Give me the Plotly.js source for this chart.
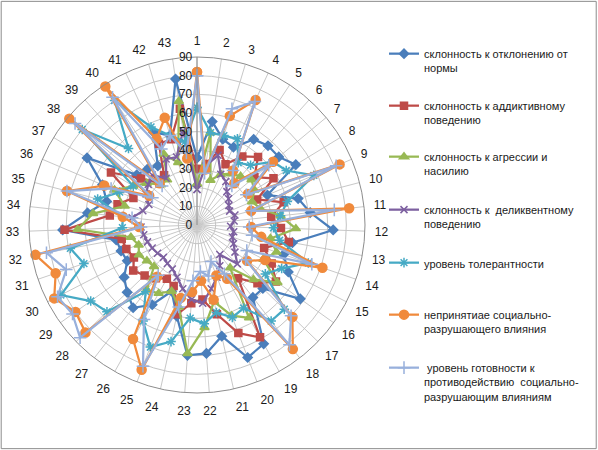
<!DOCTYPE html>
<html>
<head>
<meta charset="utf-8">
<script src="https://cdn.plot.ly/plotly-3.0.1.min.js"></script>
<style>html,body{margin:0;padding:0;background:#fff;}#chart{width:598px;height:450px;}</style>
</head>
<body>
<div id="chart"></div>
<script>
const categories = ['1','2','3','4','5','6','7','8','9','10','11','12','13','14','15','16','17','18','19','20','21','22','23','24','25','26','27','28','29','30','31','32','33','34','35','36','37','38','39','40','41','42','43'];

const seriesNames = [
  'склонность к отклонению от<br>нормы',
  'склонность к аддиктивному<br>поведению',
  'склонность к агрессии и<br>насилию',
  'склонность к  деликвентному<br>поведению',
  'уровень толерантности',
  'непринятиае социально-<br>разрушающего влияния',
  ' уровень готовности к<br>противодействию  социально-<br>разрушающим влияниям'
];

const deviation   = [36,56,48,46,55,57,57,62,41,56,61,73,52,49,55,68,49,49,73,76,61,69,70,50,38,49,56,52,48,42,43,44,72,59,50,55,69,42,40,38,55,50,79];
const addictive   = [30,33,42,36,44,49,40,48,35,48,40,45,50,38,45,52,45,36,69,62,49,40,42,49,35,33,36,39,42,38,40,41,71,47,44,37,54,39,30,32,48,48,63];
const aggression  = [22,50,25,30,33,35,38,36,32,35,45,53,40,45,40,53,42,29,57,52,42,55,69,45,38,42,44,32,33,35,33,36,64,56,40,48,40,35,29,29,42,35,67];
const delinquent  = [19,32,39,30,28,24,22,20,19,21,20,18,20,20,22,25,30,20,25,30,35,42,40,35,30,27,26,25,26,27,28,29,30,35,30,28,32,34,36,30,39,38,51];
const tolerance   = [63,50,50,51,40,43,53,56,68,50,45,41,45,63,51,45,65,65,51,53,48,53,50,64,70,59,45,67,70,82,64,69,40,40,55,45,40,80,55,80,58,50,45];
const rejection   = [82,30,61,74,35,30,53,32,83,30,82,29,35,71,41,33,71,84,33,29,41,30,36,40,83,70,35,83,80,86,80,88,31,40,72,54,30,89,30,89,51,60,36];
const readiness   = [80,28,65,73,35,28,50,31,81,30,74,28,30,65,30,32,70,81,30,21,28,25,30,45,81,58,34,87,82,84,74,82,30,35,72,50,28,85,28,82,45,50,39];

const seriesValues = [deviation, addictive, aggression, delinquent, tolerance, rejection, readiness];
const colors  = ['#4A7EBB','#BE4B48','#98B954','#7D60A0','#46AAC5','#F08A3C','#98B0DC'];
const symbols = ['diamond','square','triangle-up','x-thin-open','asterisk-open','circle','cross-thin-open'];
const msizes  = [7,7,8,7,8,9,9];
const legendY = [54,106,157,210,263,315,368];

const traces = seriesValues.map((vals, i) => ({
  type: 'scatterpolar',
  mode: 'lines+markers',
  name: seriesNames[i],
  r: vals.concat([vals[0]]),
  theta: categories.concat([categories[0]]),
  line: {color: colors[i], width: 2.25},
  marker: {symbol: symbols[i], size: msizes[i], color: colors[i], line: {color: colors[i], width: 1.5}},
  legend: i === 0 ? 'legend' : 'legend' + (i + 1),
  showlegend: true,
  cliponaxis: false
}));

const layout = {
  width: 598, height: 450,
  showlegend: true,
  margin: {l: 0, r: 0, t: 0, b: 0, pad: 0},
  paper_bgcolor: '#ffffff',
  font: {family: 'Liberation Sans, Arial, sans-serif', size: 12, color: '#000'},
  polar: {
    domain: {x: [29/598, 365/598], y: [1 - 393/450, 1 - 57/450]},
    bgcolor: '#ffffff',
    angularaxis: {
      type: 'category', direction: 'clockwise', rotation: 90,
      showline: true, linecolor: '#8C8C8C', linewidth: 1,
      gridcolor: '#C8C8C8', gridwidth: 1,
      ticks: 'outside', ticklen: 7, tickcolor: 'rgba(0,0,0,0)',
      tickfont: {size: 12, color: '#1a1a1a'}
    },
    radialaxis: {
      range: [0, 90], dtick: 10, angle: 90, side: 'counterclockwise', tickangle: 90,
      showline: true, linecolor: '#8C8C8C', linewidth: 1,
      gridcolor: '#C4C4C4', gridwidth: 1,
      ticks: '', tickfont: {size: 12, color: '#1a1a1a'}
    }
  },
  shapes: [{type: 'rect', xref: 'paper', yref: 'paper', x0: 0.002, x1: 0.997, y0: 0.003, y1: 0.997,
            line: {color: '#8C8C8C', width: 1}, fillcolor: 'rgba(0,0,0,0)'}]
};

legendY.forEach((py, i) => {
  const key = i === 0 ? 'legend' : 'legend' + (i + 1);
  layout[key] = {
    visible: true,
    x: 384/598, y: 1 - (py - 14)/450, xanchor: 'left', yanchor: 'top',
    bgcolor: 'rgba(0,0,0,0)', borderwidth: 0, valign: 'top',
    font: {family: 'Liberation Sans, Arial, sans-serif', size: 11, color: '#1a1a1a'},
    itemwidth: 30
  };
});

Plotly.newPlot('chart', traces, layout, {displayModeBar: false, staticPlot: true});
</script>
</body>
</html>
